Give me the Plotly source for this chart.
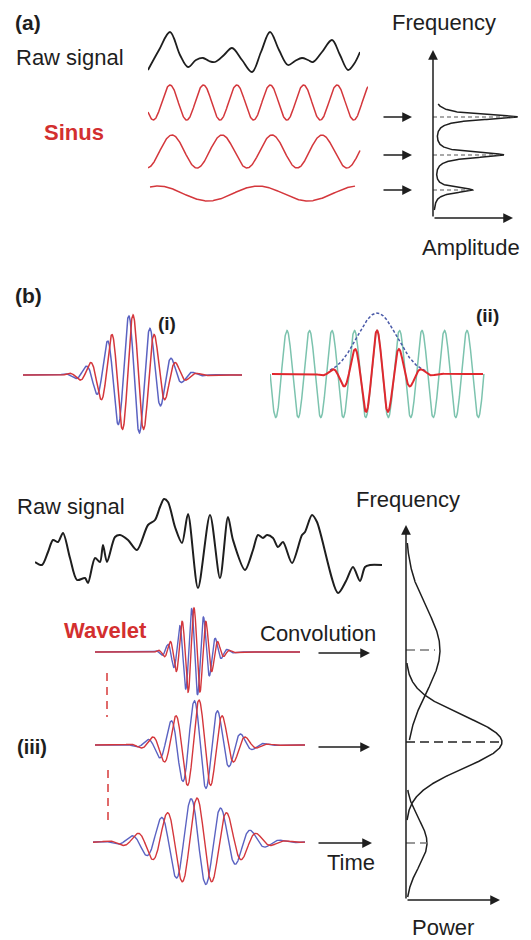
import numpy as np
import plotly.graph_objects as go

W, H = 531, 940
FONT = "Liberation Sans, Arial, Helvetica, sans-serif"
INK = "#1e1e1e"
RED = "#d4373c"
BLUE = "#5b63c2"
GREEN = "#7cc3ae"

# ---------------- data ----------------
# (a) raw signal (time, amplitude)
raw_a_t = [0, 11, 22, 32, 40, 48, 55, 61, 67, 76, 84, 94, 104, 113, 122, 131, 140,
           147, 154, 160, 165, 174, 184, 192, 200, 206, 212]
raw_a_v = [-18, 2, 20, -3, -15, -8, -6, -9, -10, -3, 4, -8, -20, 0, 20, 2, -13,
           -9, -6, -8, -10, 0, 12, -3, -18, -12, 0]

# (a) sinus components
sin_period = [33.4, 50.0, 100.0]
sin_amp = [17.5, 16.5, 7.5]
sin_crest = [22.0, 24.0, 10.0]
sin_t0 = [0.0, 0.0, 2.0]
sin_t1 = [220.0, 212.0, 207.0]

# (a) amplitude spectrum (frequency, amplitude)
spec_a_freq = [101.0, 63.0, 28.0]
spec_a_amp = [84.0, 70.0, 39.0]
spec_a_hw = 3.2

# (b)(i) complex wavelet: amplitude, period, gaussian width
wav_i = [60.0, 21.5, 24.0]

# (b)(ii) carrier and gaussian window
ii_carrier_amp = 43.5
ii_period = 22.5
ii_sigma = 21.0
ii_env_amp = 61.0
ii_env_sigma = 20.0

# (b) raw signal
raw_b_t = [0, 7, 13, 18, 23, 28, 35, 42, 50, 53, 60, 65, 68, 72, 80, 85, 93, 102, 113, 120,
           125, 129, 133, 140, 147, 153, 163, 175, 185, 193, 198, 210, 218, 223, 228, 232,
           238, 243, 248, 257, 267, 270, 277, 282, 303, 311, 318, 325, 330, 335, 347]
raw_b_v = [-17, -20, -7, 5, 3, 12, -13, -35, -33, -38, -13, -17, 0, -17, 8, 10, 5, -5, 20, 25,
           38, 46, 43, 18, 2, 31, -43, 30, -33, 28, 5, -25, -5, 10, 7, 10,
           7, -2, 3, -18, 10, 13, 30, 23, -48, -36, -22, -36, -22, -20, -20]

# (b)(iii) wavelets at three scales
wav_iii_amp = [44.0, 45.0, 44.0]
wav_iii_period = [12.0, 23.5, 30.0]
wav_iii_sigma = [14.0, 25.0, 33.0]

# (b) power spectrum
spec_b_freq = [250.0, 158.0, 57.0]
spec_b_amp = [34.0, 96.0, 21.0]
spec_b_sigma = [42.0, 26.0, 24.0]
spec_b_span = [(160, 357), (80, 237), (3, 110)]

# ---------------- figure ----------------
fig = go.Figure()
counter = [1]


def new_axes(px_x, px_y, xr, yr):
    counter[0] += 1
    n = counter[0]
    fig.update_layout(**{
        f"xaxis{n}": dict(domain=[px_x[0] / W, px_x[1] / W], range=xr, visible=False,
                          anchor=f"y{n}", fixedrange=True),
        f"yaxis{n}": dict(domain=[1 - px_y[1] / H, 1 - px_y[0] / H], range=yr, visible=False,
                          anchor=f"x{n}", fixedrange=True),
    })
    return f"x{n}", f"y{n}"


def line(ax, x, y, color, width, dash=None, shape="linear", smoothing=1.0):
    fig.add_trace(go.Scatter(
        x=x, y=y, xaxis=ax[0], yaxis=ax[1], mode="lines", hoverinfo="skip",
        line=dict(color=color, width=width, dash=dash, shape=shape, smoothing=smoothing),
    ))


def morlet(t, amp, period, sigma, shift=0.0):
    return amp * np.exp(-t ** 2 / (2 * sigma ** 2)) * np.cos(2 * np.pi * (t + shift) / period)


# (a) raw signal
ax = new_axes((148, 360), (28, 76), [0, 212], [-24, 24])
line(ax, raw_a_t, raw_a_v, INK, 1.8, shape="spline", smoothing=1.0)

# (a) sinus rows
centers = [102.5, 151.5, 193.5]
for k in range(3):
    ax = new_axes((148, 368), (centers[k] - 20.5, centers[k] + 20.5), [0, 220], [-20.5, 20.5])
    t = np.linspace(sin_t0[k], sin_t1[k], 600)
    v = sin_amp[k] * np.cos(2 * np.pi * (t - sin_crest[k]) / sin_period[k])
    line(ax, t, v, RED, 1.5)

# (a) spectrum
ax = new_axes((433, 520), (50, 218), [0, 87], [0, 168])
f = np.linspace(8, 114, 900)
amp = np.zeros_like(f)
for f0, a0 in zip(spec_a_freq, spec_a_amp):
    amp += a0 / (1 + ((f - f0) / spec_a_hw) ** 2)
line(ax, amp, f, INK, 1.5)
for f0, a0 in zip(spec_a_freq, spec_a_amp):
    line(ax, [0, a0 - 2], [f0, f0], "#555555", 1.2, dash="4px,3px")

# (b)(i)
ax = new_axes((23, 242), (300, 440), [-110, 109], [-65, 75])
t = np.linspace(-110, 109, 900)
line(ax, t, morlet(t, wav_i[0], wav_i[1], wav_i[2], wav_i[1] / 5), BLUE, 1.5)
line(ax, t, morlet(t, wav_i[0], wav_i[1], wav_i[2]), RED, 1.5)

# (b)(ii)
ax = new_axes((270, 490), (300, 430), [-107, 113], [-56, 74])
t = np.linspace(-4.75 * ii_period, 4.75 * ii_period, 900)
line(ax, t, ii_carrier_amp * np.cos(2 * np.pi * t / ii_period), GREEN, 1.5)
t = np.linspace(-47, 50, 300)
line(ax, t, ii_env_amp * np.exp(-t ** 2 / (2 * ii_env_sigma ** 2)), "#4a5aa8", 1.5, dash="3px,2px")
t = np.linspace(-105, 106, 900)
line(ax, t, ii_carrier_amp * np.exp(-t ** 2 / (2 * ii_sigma ** 2)) * np.cos(2 * np.pi * t / ii_period),
     "#e0282e", 2.0)

# (b) raw signal
ax = new_axes((35, 382), (490, 605), [0, 347], [-60, 55])
line(ax, raw_b_t, raw_b_v, INK, 2.0, shape="spline", smoothing=0.8)

# (b)(iii) wavelets
boxes = [((95, 300), 652, [-99, 106]), ((95, 305), 745, [-104, 106]), ((93, 305), 842, [-104, 108])]
for k in range(3):
    pxx, cy, tr = boxes[k]
    ax = new_axes(pxx, (cy - 55, cy + 55), tr, [-55, 55])
    t = np.linspace(tr[0], tr[1], 900)
    P = wav_iii_period[k]
    line(ax, t, morlet(t, wav_iii_amp[k], P, wav_iii_sigma[k], P / 5), BLUE, 1.4)
    line(ax, t, morlet(t, wav_iii_amp[k], P, wav_iii_sigma[k]), RED, 1.4)

# (b) power spectrum
ax = new_axes((406, 510), (525, 900), [0, 104], [0, 375])
for f0, a0, s0, span in zip(spec_b_freq, spec_b_amp, spec_b_sigma, spec_b_span):
    f = np.linspace(span[0], span[1], 500)
    line(ax, a0 * np.exp(-(f - f0) ** 2 / (2 * s0 ** 2)), f, INK, 1.5)
dash_col = ["#777777", "#222222", "#777777"]
dash_len = [29, 96, 21]
for f0, L, c in zip(spec_b_freq, dash_len, dash_col):
    line(ax, [0, L], [f0, f0], c, 1.5, dash="9px,5px")

# ---------------- overlay: text and arrows ----------------
ann = []


def text(x, y, s, size=22, color=INK, bold=False, xanchor="left"):
    ann.append(dict(x=x, y=y, xref="x", yref="y", text=f"<b>{s}</b>" if bold else s,
                    showarrow=False, xanchor=xanchor, yanchor="middle",
                    font=dict(family=FONT, size=size, color=color)))


def arrow(x0, y0, x1, y1, w=1.5):
    ann.append(dict(x=x1, y=y1, ax=x0, ay=y0, xref="x", yref="y", axref="x", ayref="y",
                    text="", showarrow=True, arrowhead=2, arrowsize=1.3, arrowwidth=w,
                    arrowcolor=INK, standoff=0, startstandoff=0))


text(13, 22, "(a)", 21, bold=True)
text(14, 57, "Raw signal", 22)
text(42, 132, "Sinus", 22, color="#d32f2f", bold=True)
text(444, 22, "Frequency", 22, xanchor="center")
text(471, 247, "Amplitude", 22, xanchor="center")
for yy in [117, 155, 190]:
    arrow(382, yy, 412, yy)
arrow(433, 218, 433, 50)
arrow(433, 218, 513, 218)

text(13, 295, "(b)", 21, bold=True)
text(167, 323, "(i)", 19, bold=True, xanchor="center")
text(487, 315, "(ii)", 19, bold=True, xanchor="center")
text(15, 506, "Raw signal", 22)
text(408, 499, "Frequency", 22, xanchor="center")
text(62, 630, "Wavelet", 22, color="#d32f2f", bold=True)
text(258, 633, "Convolution", 22)
text(15, 747, "(iii)", 20, bold=True)
text(325, 862, "Time", 22)
text(443, 927, "Power", 22, xanchor="center")
arrow(317, 653, 370, 653)
arrow(317, 747, 370, 747)
arrow(317, 843, 372, 843)
arrow(406, 900, 406, 525)
arrow(406, 900, 500, 900)

# red dashed scale connector
fig.add_trace(go.Scatter(x=[107, 107, None, 108, 108], y=[673, 717, None, 770, 822],
                         xaxis="x", yaxis="y", mode="lines", hoverinfo="skip",
                         line=dict(color="#e06a6a", width=2, dash="8px,6px")))

fig.update_layout(
    width=W, height=H, margin=dict(l=0, r=0, t=0, b=0),
    paper_bgcolor="white", plot_bgcolor="rgba(0,0,0,0)", showlegend=False,
    xaxis=dict(domain=[0, 1], range=[0, W], visible=False, fixedrange=True),
    yaxis=dict(domain=[0, 1], range=[H, 0], visible=False, fixedrange=True),
    annotations=ann,
)

fig.write_html("out.html", config={"displayModeBar": False})
